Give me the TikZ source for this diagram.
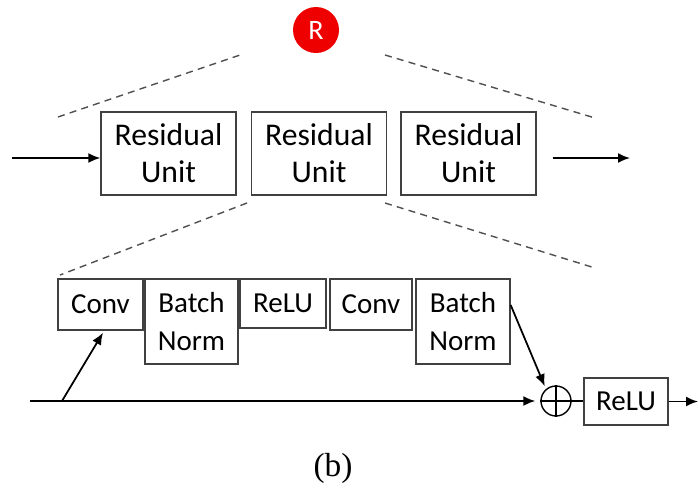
\documentclass[tikz,border=0pt]{standalone}
\usepackage{fontspec}
\setmainfont{Carlito}
\newfontfamily\captionfont{Liberation Serif}
\definecolor{BoxGray}{HTML}{404040}
\definecolor{DashGray}{HTML}{505050}
\definecolor{BadgeRed}{HTML}{EE0000}
\usetikzlibrary{arrows.meta, positioning}
\tikzset{
  unitbox/.style={draw=BoxGray, line width=0.8pt, align=center, minimum width=2.7cm, minimum height=1.66cm, inner sep=2pt, font=\fontsize{18}{21}\selectfont},
  layerbox/.style={draw=BoxGray, line width=0.8pt, align=center, minimum height=1.02cm, inner sep=2pt, font=\fontsize{16.5}{21.5}\selectfont},
  arrow/.style={-{Latex[length=2.4mm, width=2mm]}, line width=1pt, draw=black},
  zoomline/.style={dashed, dash pattern=on 4pt off 3pt, line width=0.8pt, draw=DashGray}
}

\begin{document}
\begin{tikzpicture}
\useasboundingbox (0,0) rectangle (13.96,-9.86);
% badge
\node[circle, fill=BadgeRed, minimum size=0.92cm, inner sep=0pt, text=white, font=\fontsize{16}{16}\selectfont] (badge) at (6.32,-0.6) {R};

% stack of residual units
\node[unitbox] (unitone) at (3.37,-3.07) {Residual\\Unit};
\node[unitbox] (unittwo) at (6.38,-3.07) {Residual\\Unit};
\node[unitbox] (unitthree) at (9.37,-3.07) {Residual\\Unit};
\coordinate (inone) at (0.24,-3.16);
\coordinate (outone) at (12.6,-3.16);
\draw[arrow] (inone) -- (unitone.west |- inone);
\draw[arrow] (unitthree.east |- outone) ++(0.32,0) -- (outone);

% zoom lines
\coordinate (ztl) at (1.16,-2.34);
\coordinate (ztr) at (11.9,-2.36);
\coordinate (zbl) at (1.2,-5.5);
\coordinate (zbr) at (11.9,-5.36);
\draw[zoomline] (ztl) -- (4.86,-1.08);
\draw[zoomline] (7.7,-1.1) -- (ztr);
\draw[zoomline] (4.94,-4.06) -- (zbl);
\draw[zoomline] (7.7,-4.06) -- (zbr);

% inside one unit
\node[layerbox, minimum width=1.7cm] (convone) at (2.01,-6.09) {Conv};
\node[layerbox, minimum width=1.86cm, minimum height=1.7cm] (bnone) at (3.83,-6.43) {Batch\\Norm};
\node[layerbox, minimum width=1.72cm, minimum height=0.98cm] (reluone) at (5.66,-6.07) {ReLU};
\node[layerbox, minimum width=1.64cm] (convtwo) at (7.42,-6.09) {Conv};
\node[layerbox, minimum width=1.88cm, minimum height=1.7cm] (bntwo) at (9.26,-6.43) {Batch\\Norm};
\node[circle, draw=black, line width=0.8pt, minimum size=0.6cm, inner sep=0pt] (plus) at (11.12,-8.02) {};
\draw[line width=0.8pt] (plus.north) -- (plus.south) (plus.west) -- (plus.east);
\node[layerbox, minimum width=1.68cm, minimum height=0.94cm] (relutwo) at (12.52,-8.03) {ReLU};

\coordinate (intwo) at (0.6,-8.02);
\coordinate (branch) at (1.24,-8.02);
\coordinate (outtwo) at (13.96,-8.03);
\draw[arrow, shorten >=0.1cm] (intwo) -- (plus.west |- intwo);
\draw[arrow] (branch) -- ([xshift=0.05cm, yshift=-0.04cm]convone.south);
\draw[arrow, shorten >=0.06cm] (bntwo.19) -- (plus.130);
\draw[line width=0.8pt] (plus.east) -- (relutwo.west |- plus.east);
\draw[arrow] (relutwo) -- (outtwo);

\node[font=\captionfont\fontsize{19}{19}\selectfont] (caption) at (6.66,-9.36) {(b)};
\end{tikzpicture}
\end{document}
